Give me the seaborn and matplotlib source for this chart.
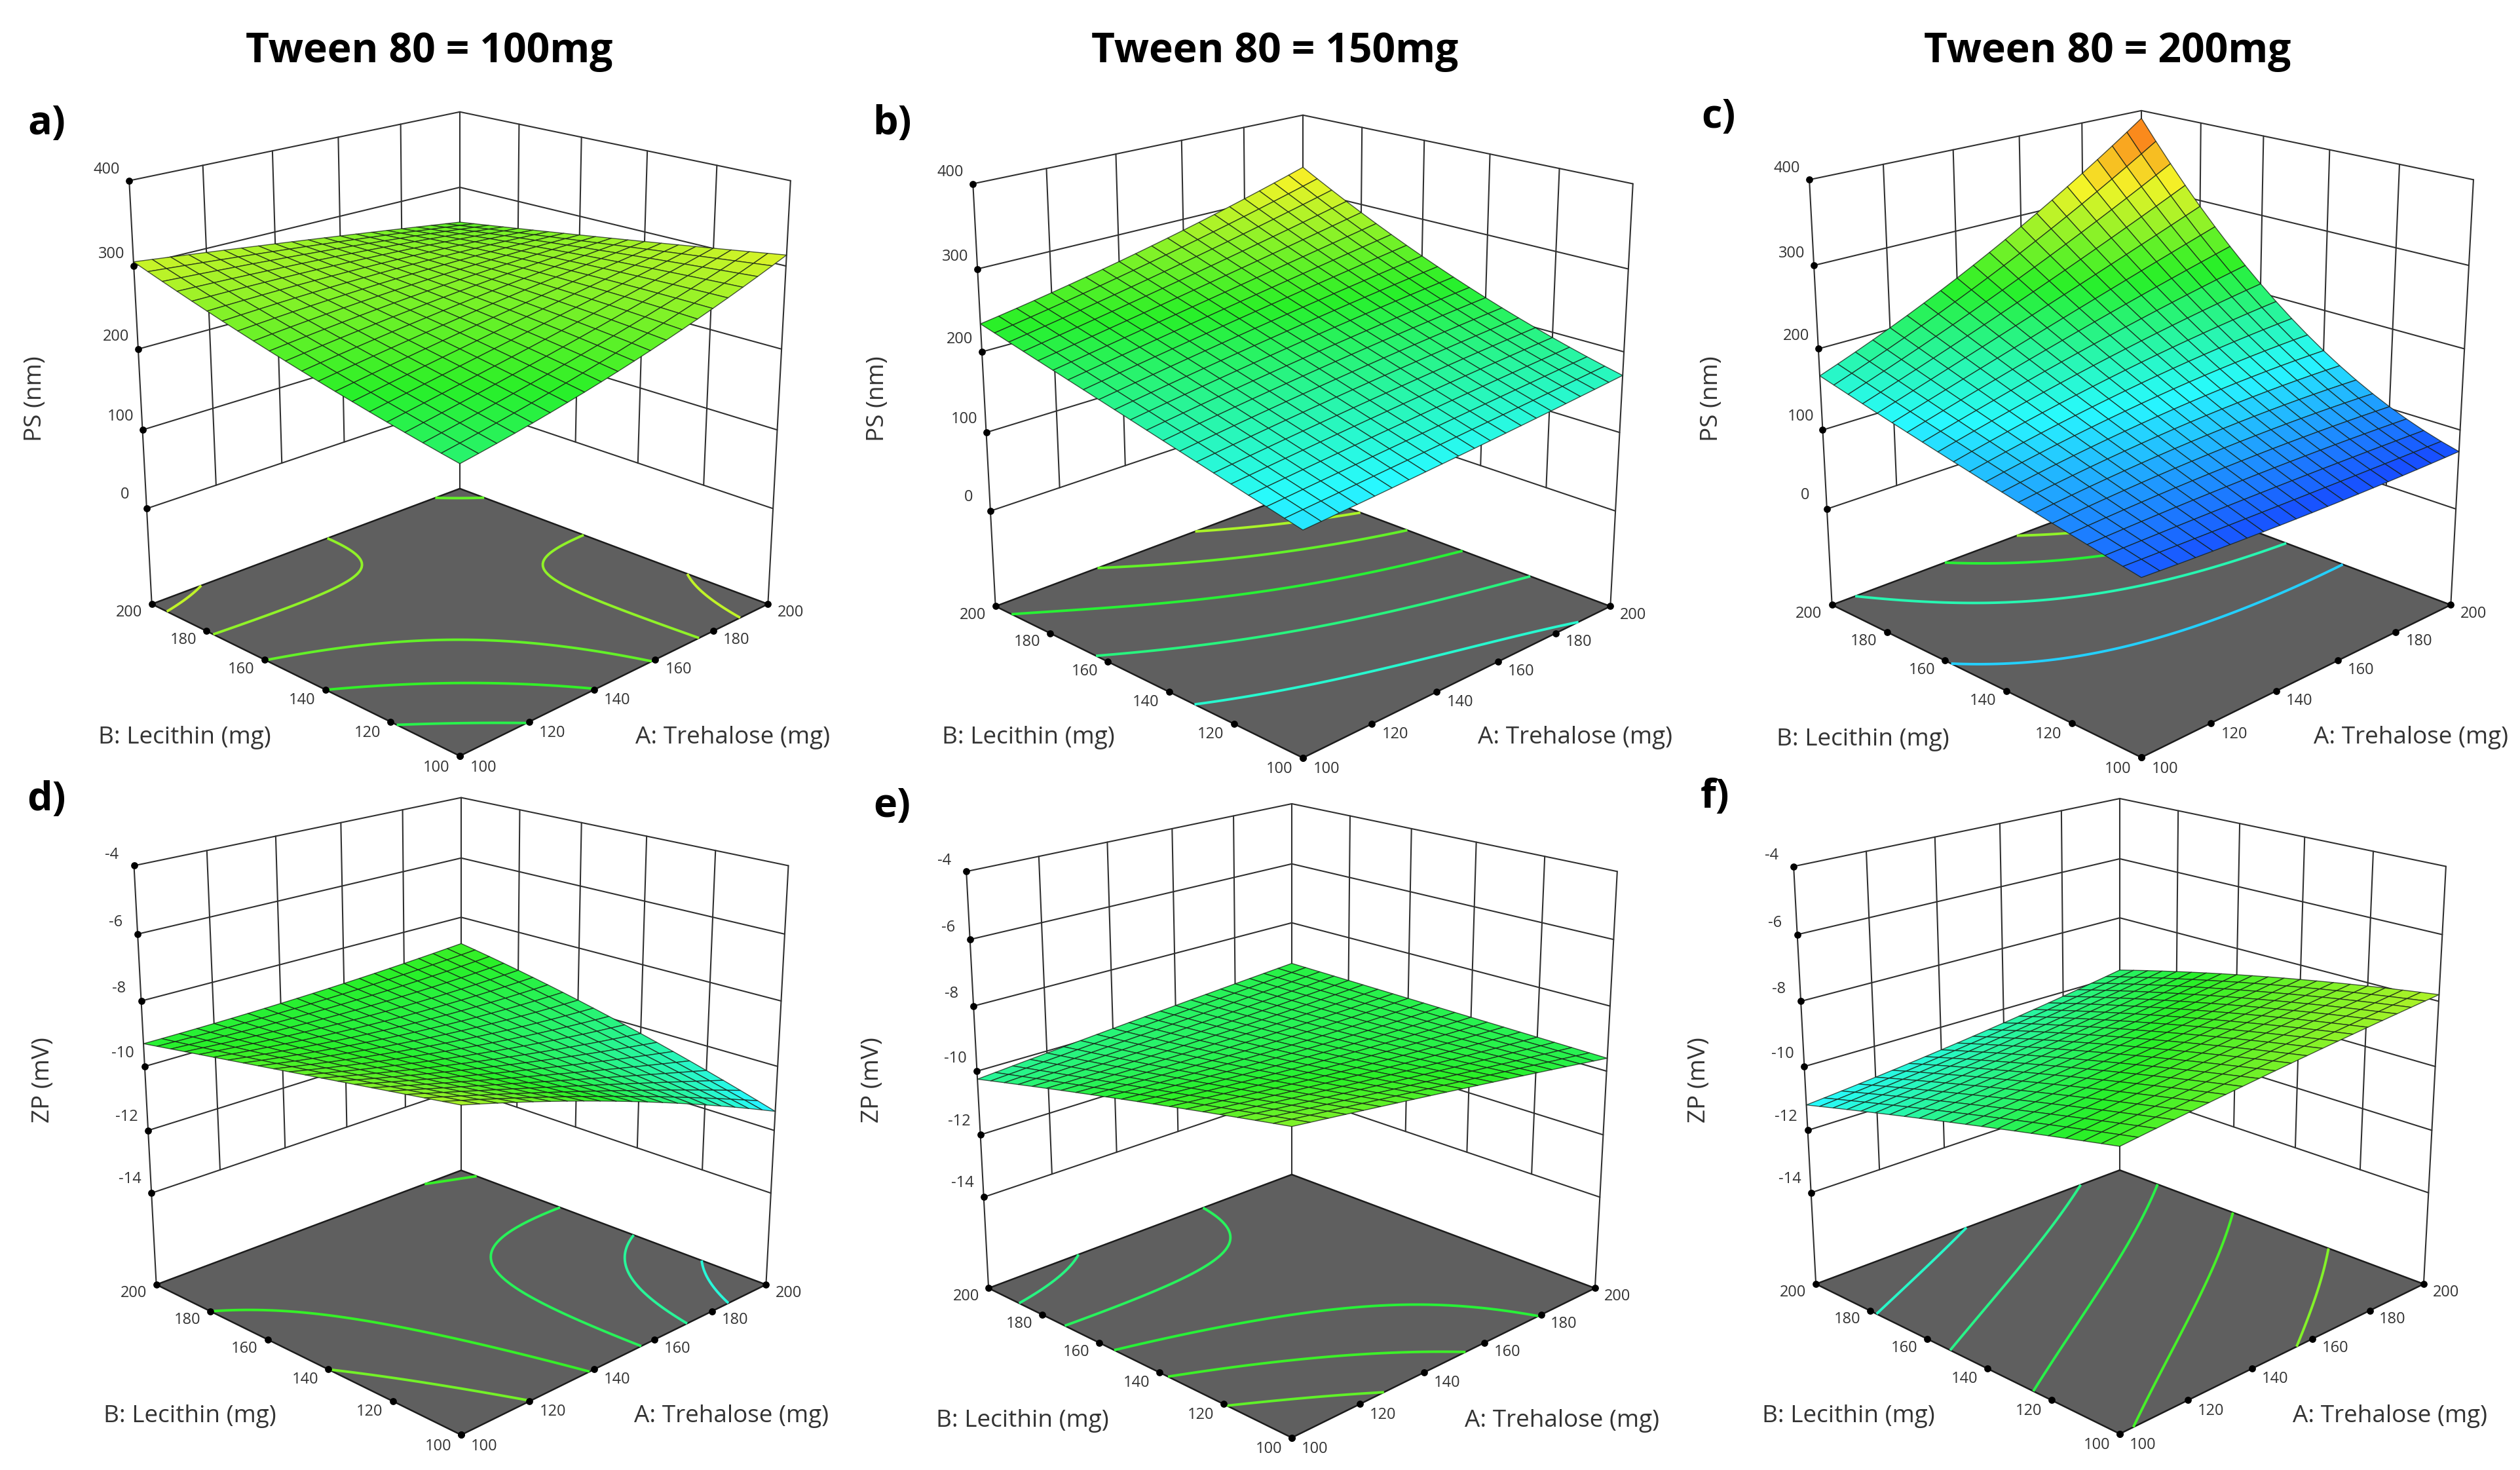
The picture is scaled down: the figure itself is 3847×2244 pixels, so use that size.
import numpy as np
import matplotlib
matplotlib.use("Agg")
import matplotlib.pyplot as plt
from matplotlib.colors import Normalize
from mpl_toolkits.mplot3d import proj3d
import seaborn as sns

sns.set_theme(style="white")
plt.rcParams["font.family"] = ["Open Sans", "DejaVu Sans"]

# ---------- data ----------
# Heights read at A = 100/150/200 (rows) and B = 100/150/200 (columns).
# NOTE: only these 3x3 values are read; the fine mesh between them is the
# quadratic response surface through them, not individually read points.
ps_a = [[203, 248, 305], [248, 270, 280], [313, 282, 253]]
ps_b = [[134, 184, 234], [151, 213, 276], [171, 236, 331]]
ps_c = [[80, 121, 167], [73, 158, 263], [73, 178, 390]]
zp_d = [[-7.8, -8.55, -9.3], [-9.4, -9.45, -9.2], [-11.4, -9.95, -8.9]]
zp_e = [[-8.25, -9.2, -10.25], [-8.9, -9.45, -9.8], [-9.6, -9.5, -9.4]]
zp_f = [[-8.9, -10.0, -11.2], [-8.3, -9.35, -10.6], [-7.8, -8.65, -9.8]]

levels_a = [218, 238, 258, 278, 298]
levels_b = [166, 198, 228, 258, 288]
levels_c = [128, 178, 228, 278]
levels_d = [-8.4, -9.0, -9.6, -10.2, -10.8]
levels_e = [-8.6, -8.95, -9.3, -9.65, -10.0]
levels_f = [-8.25, -8.85, -9.45, -10.05, -10.65]

mg_ticks = [100, 120, 140, 160, 180, 200]
ps_ticks = [0, 100, 200, 300, 400]
zp_ticks = [-14, -12, -10, -8, -6, -4]
ps_floor = -125
zp_floor = -17
titles = ["Tween 80 = 100mg", "Tween 80 = 150mg", "Tween 80 = 200mg"]
letters = ["a)", "b)", "c)", "d)", "e)", "f)"]
ramp = ["#1428ff", "#28faff", "#28f028", "#f4f428", "#ff3c14"]

W, H = 3848, 2244
DPI = 200
fig = plt.figure(figsize=(W / DPI, H / DPI), dpi=DPI, facecolor="white")
cmap = sns.blend_palette(ramp, as_cmap=True)
ps_norm = Normalize(58, 408)
zp_norm = Normalize(-13.2, -5.1)

LINE = "#303030"
FLOOR = "#5f5f5f"


def basis(s):
    return np.array([2 * (s - .5) * (s - 1), -4 * s * (s - 1), 2 * s * (s - .5)])


def response(grid, a, b):
    return basis((a - 100) / 100) @ np.asarray(grid, float) @ basis((b - 100) / 100)


def px_text(x, y, s, **kw):
    return fig.text(x / W, 1 - y / H, s, ha="center", va="center", **kw)


def panel(cx, cy, width, grid, levels, ticks, floor, norm):
    size = 1176 * width / 950 * .983
    left = cx - 5 - .5135 * size
    bottom = H - cy - .5 * size
    ax = fig.add_axes([left / W, bottom / H, size / W, size / H],
                      projection="3d", computed_zorder=False)
    ax.set_facecolor("none")
    ax.set_xlim(100, 200, view_margin=0)
    ax.set_ylim(100, 200, view_margin=0)
    ax.set_zlim(floor, ticks[-1], view_margin=0)
    ax.set_box_aspect((1, 1, .995))
    ax.view_init(elev=19.6, azim=-135)
    ax.set_proj_type("persp", focal_length=.52)
    ax.set_axis_off()

    lo, hi = mg_ticks[0], mg_ticks[-1]
    top, z0 = ticks[-1], ticks[0]
    st = dict(color=LINE, lw=.75, zorder=1)
    for z in ticks:
        ax.plot([lo, hi], [hi, hi], [z, z], **st)
        ax.plot([hi, hi], [lo, hi], [z, z], **st)
    for t in mg_ticks[1:-1]:
        ax.plot([t, t], [hi, hi], [z0, top], **st)
        ax.plot([hi, hi], [t, t], [z0, top], **st)
    for x, y in [(lo, hi), (hi, hi), (hi, lo)]:
        ax.plot([x, x], [y, y], [floor, top], **st)

    fa, fb = np.meshgrid([lo, hi], [lo, hi], indexing="ij")
    ax.plot_surface(fa, fb, np.full_like(fa, floor, dtype=float), color=FLOOR,
                    shade=False, linewidth=0, antialiased=False, zorder=2)
    edge = dict(color="#1c1c1c", lw=.9, zorder=3)
    for xs, ys in [([lo, hi], [lo, lo]), ([lo, lo], [lo, hi]),
                   ([lo, hi], [hi, hi]), ([hi, hi], [lo, hi])]:
        ax.plot(xs, ys, [floor, floor], **edge)

    mesh = np.linspace(lo, hi, 21)
    fine = np.linspace(lo, hi, 101)
    A, B = np.meshgrid(mesh, mesh, indexing="ij")
    Z = np.array([[response(grid, a, b) for b in mesh] for a in mesh])
    FA, FB = np.meshgrid(fine, fine, indexing="ij")
    FZ = np.array([[response(grid, a, b) for b in fine] for a in fine])
    lv = sorted(levels)
    ax.contour(FA, FB, FZ, levels=lv, zdir="z", offset=floor,
               colors=[cmap(norm(v)) for v in lv], linewidths=1.4, zorder=3)
    ax.plot_surface(A, B, Z, cmap=cmap, norm=norm, rstride=1, cstride=1,
                    shade=False, edgecolor=(.08, .12, .08, .75), linewidth=.5,
                    antialiased=True, zorder=5)

    dots = dict(c="black", s=15, depthshade=False, zorder=4, linewidths=0)
    ax.scatter(mg_ticks, [lo] * 6, [floor] * 6, **dots)
    ax.scatter([lo] * 6, mg_ticks, [floor] * 6, **dots)
    ax.scatter([lo] * len(ticks), [hi] * len(ticks), ticks, **dots)

    # tick labels: 3D anchor projected by the axes' own projection
    M = ax.get_proj()
    tk = dict(fontsize=8.5, color="#333333", ha="center", va="center",
              transform=ax.transData, zorder=6)

    def label(x, y, z, s):
        px, py, _ = proj3d.proj_transform(x, y, z, M)
        ax.text2D(px, py, s, **tk)

    dz = (top - floor) * .011
    for t in mg_ticks:
        label(t, lo - 6.5, floor, str(t))
        label(lo - 6.5, t, floor, str(t))
    for z in ticks:
        label(lo, hi + 8, z + dz, str(z))
    return ax


rows = [
    (707, 1148, 950, ps_a, levels_a, ps_ticks, ps_floor, ps_norm),
    (1994, 1152, 948, ps_b, levels_b, ps_ticks, ps_floor, ps_norm),
    (3274, 1148, 954, ps_c, levels_c, ps_ticks, ps_floor, ps_norm),
    (709, 2190, 940, zp_d, levels_d, zp_ticks, zp_floor, zp_norm),
    (1977, 2197, 935, zp_e, levels_e, zp_ticks, zp_floor, zp_norm),
    (3241, 2190, 937, zp_f, levels_f, zp_ticks, zp_floor, zp_norm),
]
for cx, front, width, grid, lv, ticks, floor, norm in rows:
    panel(cx, front - 522, width, grid, lv, ticks, floor, norm)

lab = dict(fontsize=13.3, color="#333333")
for (x, y), s in zip([(54, 609), (1340, 609), (2613, 609), (66, 1649), (1332, 1649), (2594, 1649)],
                     ["PS (nm)"] * 3 + ["ZP (mV)"] * 3):
    px_text(x, y, s, rotation=90, **lab)
for (x, y) in [(1119, 1126), (2405, 1126), (3681, 1126), (1117, 2162), (2385, 2169), (3649, 2162)]:
    px_text(x, y, "A: Trehalose (mg)", **lab)
for (x, y) in [(282, 1126), (1570, 1126), (2844, 1129), (290, 2162), (1561, 2169), (2822, 2162)]:
    px_text(x, y, "B: Lecithin (mg)", **lab)
for (x, y), s in zip([(655, 78), (1946, 78), (3217, 78)], titles):
    px_text(x, y, s, fontsize=22.4, fontweight="bold", color="black")
for (x, y), s in zip([(71, 189), (1362, 189), (2623, 179), (71, 1222), (1362, 1232), (2618, 1217)], letters):
    px_text(x, y, s, fontsize=22, fontweight="bold", color="black")

fig.savefig("out.png", dpi=DPI, facecolor="white")
